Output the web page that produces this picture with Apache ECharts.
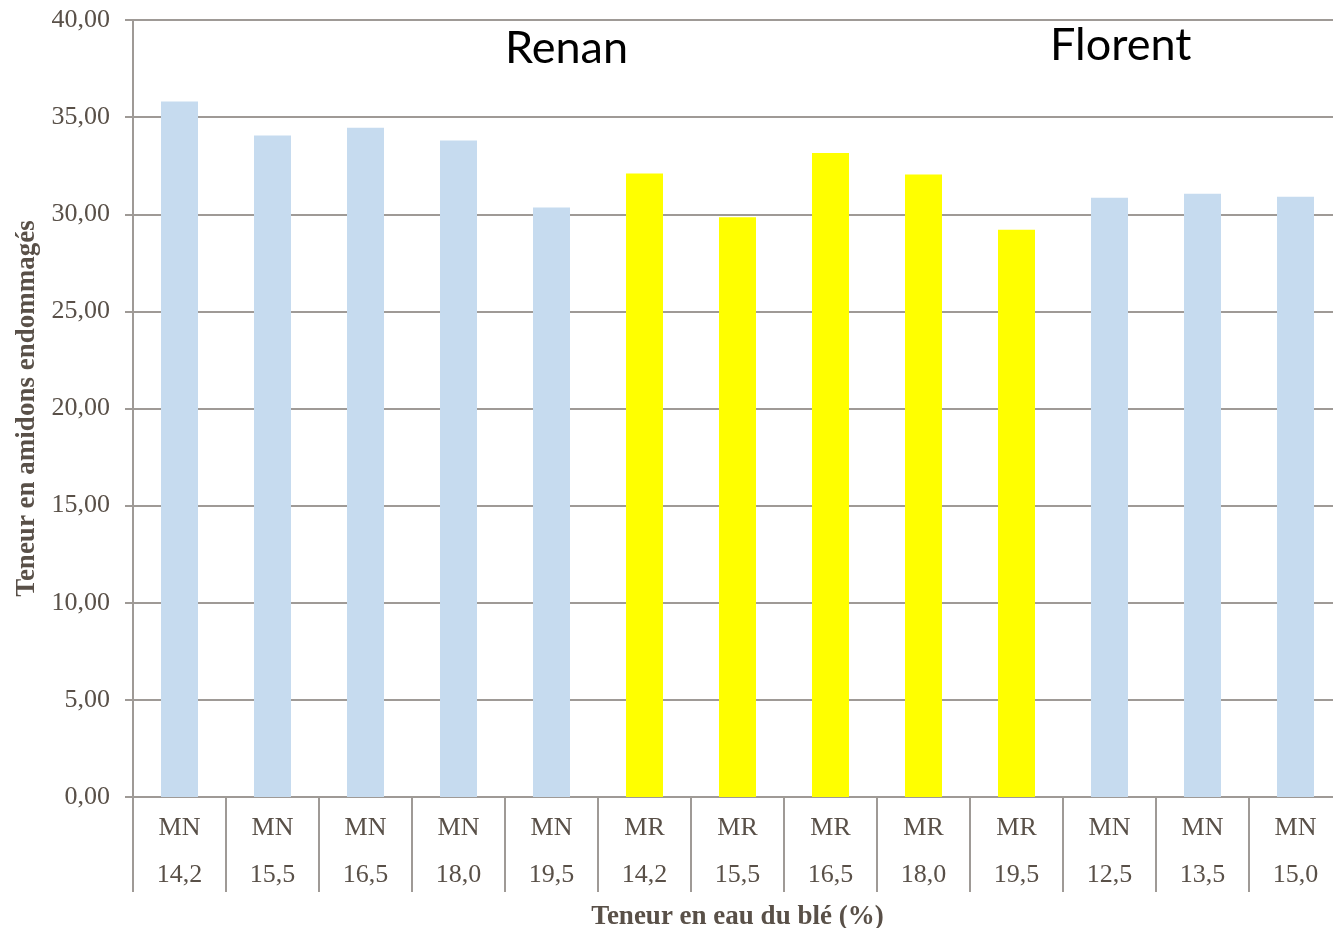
<!DOCTYPE html>
<html>
<head>
<meta charset="utf-8">
<script src="https://cdn.jsdelivr.net/npm/echarts@6/dist/echarts.min.js"></script>
<style>
  html, body { margin: 0; padding: 0; background: #ffffff; }
  #chart { width: 1333px; height: 928px; }
</style>
</head>
<body>
<div id="chart"></div>
<script>
// Milling mode per sample (MN / MR) and wheat moisture content (%)
const modes = ['MN', 'MN', 'MN', 'MN', 'MN', 'MR', 'MR', 'MR', 'MR', 'MR', 'MN', 'MN', 'MN'];
const moisture = ['14,2', '15,5', '16,5', '18,0', '19,5', '14,2', '15,5', '16,5', '18,0', '19,5', '12,5', '13,5', '15,0'];
// Damaged starch content
const damagedStarch = [35.8, 34.05, 34.45, 33.8, 30.35, 32.1, 29.85, 33.15, 32.05, 29.2, 30.85, 31.05, 30.9];
const yTicks = [0, 5, 10, 15, 20, 25, 30, 35, 40];

const modeColors = { MN: '#C6DBEF', MR: '#FFFF00' };
const textColor = '#595048';
const lineColor = '#9f9a96';
const serif = '"Liberation Serif", "DejaVu Serif", serif';

const categories = modes.map((m, i) => m + '\n' + moisture[i]);
const barData = damagedStarch.map((v, i) => ({
  value: v,
  itemStyle: { color: modeColors[modes[i]] }
}));

const chart = echarts.init(document.getElementById('chart'));
chart.setOption({
  animation: false,
  backgroundColor: '#ffffff',
  grid: { left: 133, right: -9, top: 20, bottom: 131, containLabel: false, outerBoundsMode: 'none' },
  xAxis: {
    type: 'category',
    data: categories,
    boundaryGap: true,
    name: 'Teneur en eau du blé (%)',
    nameLocation: 'middle',
    nameGap: 99,
    nameTextStyle: { fontFamily: serif, fontWeight: 'bold', fontSize: 27, color: textColor },
    axisLine: { lineStyle: { color: lineColor, width: 2 } },
    axisTick: { show: true, alignWithLabel: false, length: 95, lineStyle: { color: lineColor, width: 2 } },
    axisLabel: {
      interval: 0,
      margin: 8,
      fontFamily: serif,
      fontSize: 26,
      lineHeight: 47,
      color: textColor
    },
    splitLine: { show: false }
  },
  yAxis: {
    type: 'value',
    min: yTicks[0],
    max: yTicks[yTicks.length - 1],
    interval: 5,
    name: 'Teneur en amidons endommagés',
    nameLocation: 'middle',
    nameGap: 90,
    nameTextStyle: { fontFamily: serif, fontWeight: 'bold', fontSize: 27, color: textColor },
    axisLine: { show: true, lineStyle: { color: lineColor, width: 2 } },
    axisTick: { show: true, length: 8, lineStyle: { color: lineColor, width: 2 } },
    axisLabel: {
      margin: 23,
      fontFamily: serif,
      fontSize: 26,
      color: textColor,
      formatter: v => v.toFixed(2).replace('.', ',')
    },
    splitLine: { show: true, lineStyle: { color: lineColor, width: 2 } }
  },
  series: [{
    type: 'bar',
    data: barData,
    barWidth: 37
  }],
  graphic: [
    {
      type: 'text', left: 505, top: 26,
      style: { text: 'Renan', fontFamily: 'Lato, "Open Sans", sans-serif', fontSize: 45, fill: '#000000' }
    },
    {
      type: 'text', left: 1050, top: 23,
      style: { text: 'Florent', fontFamily: 'Lato, "Open Sans", sans-serif', fontSize: 45, fill: '#000000' }
    }
  ]
});
</script>
</body>
</html>
